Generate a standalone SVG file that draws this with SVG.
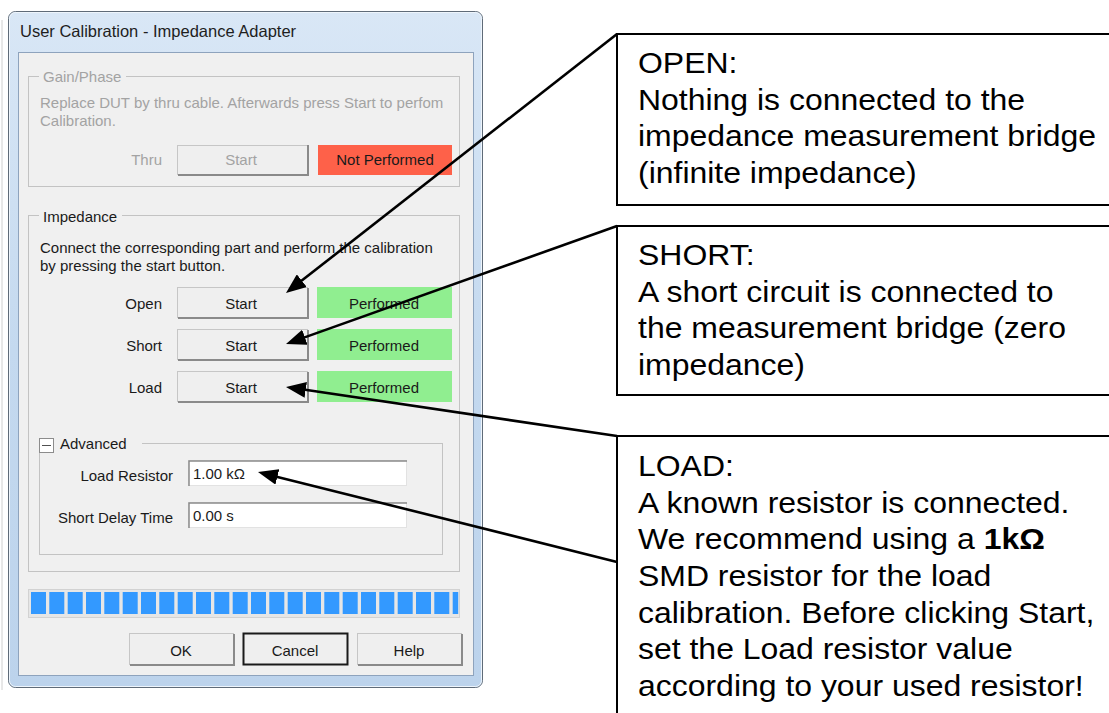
<svg xmlns="http://www.w3.org/2000/svg" width="1109" height="713" viewBox="0 0 1109 713">
<style>
.ui{font-family:"Liberation Sans",Arial,sans-serif;font-size:15px;fill:#1a1a1a}
.dis{fill:#a3a3a3}
.title{font-family:"Liberation Sans",Arial,sans-serif;font-size:16.5px;fill:#1e1e1e}
.grp{fill:none;stroke:#c3c3c3;stroke-width:1}
.btn{fill:#efefef;stroke:#c6c6c6;stroke-width:1}
.sh{fill:none;stroke:#8a8a8a;stroke-width:2}
.hl{fill:none;stroke:#ffffff;stroke-width:1}
.box{fill:#ffffff;stroke:#000000;stroke-width:2}
.co{font-family:"Liberation Sans",Arial,sans-serif;font-size:30px;fill:#000000}
.cn{fill:none;stroke:#000000;stroke-width:2.6}
.seg{fill:#3399ff}
</style>
<defs>
<linearGradient id="frame" x1="0" y1="0" x2="0" y2="1">
<stop offset="0" stop-color="#d9e7f6"/>
<stop offset="0.5" stop-color="#c4d9ef"/>
<stop offset="1" stop-color="#bcd3ec"/>
</linearGradient>
<marker id="ah" markerUnits="userSpaceOnUse" markerWidth="20" markerHeight="16" viewBox="0 0 20 16" refX="4" refY="8" orient="auto">
<path d="M0,0 L20,8 L0,16 z" fill="#000000"/>
</marker>
</defs>
<rect x="0" y="0" width="1109" height="713" fill="#ffffff"/>

<g id="dialog">
<line x1="2" y1="20" x2="2" y2="690" stroke="#d0d0d0" stroke-width="1"/>
<rect x="8.5" y="11.5" width="474" height="676" rx="7" fill="url(#frame)" stroke="#5f6b78" stroke-width="1"/>
<rect x="9.5" y="12.5" width="472" height="674" rx="6" fill="none" stroke="#eef5fc" stroke-width="1"/>
<text class="title" x="20" y="37">User Calibration - Impedance Adapter</text>
<rect x="18.5" y="52.5" width="455" height="623" fill="#f0f0f0" stroke="#8ea3bd" stroke-width="1"/>
</g>

<g id="gainphase">
<rect class="grp" x="28.5" y="76.5" width="431" height="110"/>
<rect x="39" y="70" width="87" height="12" fill="#f0f0f0"/>
<text class="ui dis" x="43" y="82">Gain/Phase</text>
<text class="ui dis" x="40" y="108">Replace DUT by thru cable. Afterwards press Start to perfom</text>
<text class="ui dis" x="40" y="126">Calibration.</text>
<text class="ui dis" x="162" y="165" text-anchor="end">Thru</text>
<rect class="btn" x="177.5" y="145.5" width="130" height="29"/>
<path class="sh" d="M178,175 H308 V145"/>
<text class="ui dis" x="241" y="165" text-anchor="middle">Start</text>
<rect x="318" y="145" width="134" height="30" fill="#fe6149"/>
<text class="ui" x="385" y="165" text-anchor="middle">Not Performed</text>
</g>

<g id="impedance">
<rect class="grp" x="28.5" y="215.5" width="431" height="356"/>
<rect x="39" y="209" width="83" height="12" fill="#f0f0f0"/>
<text class="ui" x="43" y="222">Impedance</text>
<text class="ui" x="40" y="253">Connect the corresponding part and perform the calibration</text>
<text class="ui" x="40" y="271">by pressing the start button.</text>
</g>

<g id="row-open">
<text class="ui" x="162" y="309" text-anchor="end">Open</text>
<rect class="btn" x="177.5" y="287.5" width="130" height="30"/>
<path class="sh" d="M178,318 H308 V288"/>
<text class="ui" x="241" y="309" text-anchor="middle">Start</text>
<rect x="317" y="287" width="135" height="31" fill="#90ee90"/>
<text class="ui" x="384" y="309" text-anchor="middle">Performed</text>
</g>

<g id="row-short">
<text class="ui" x="162" y="351" text-anchor="end">Short</text>
<rect class="btn" x="177.5" y="329.5" width="130" height="30"/>
<path class="sh" d="M178,360 H308 V330"/>
<text class="ui" x="241" y="351" text-anchor="middle">Start</text>
<rect x="317" y="329" width="135" height="31" fill="#90ee90"/>
<text class="ui" x="384" y="351" text-anchor="middle">Performed</text>
</g>

<g id="row-load">
<text class="ui" x="162" y="393" text-anchor="end">Load</text>
<rect class="btn" x="177.5" y="371.5" width="130" height="30"/>
<path class="sh" d="M178,402 H308 V372"/>
<text class="ui" x="241" y="393" text-anchor="middle">Start</text>
<rect x="317" y="371" width="135" height="31" fill="#90ee90"/>
<text class="ui" x="384" y="393" text-anchor="middle">Performed</text>
</g>

<g id="advanced">
<rect class="grp" x="39.5" y="443.5" width="403" height="111"/>
<rect x="36" y="436" width="106" height="14" fill="#f0f0f0"/>
<rect x="39.5" y="438.5" width="14" height="14" fill="#ffffff" stroke="#8c8c8c" stroke-width="1"/>
<line x1="42" y1="445.5" x2="51" y2="445.5" stroke="#505050" stroke-width="1"/>
<text class="ui" x="60" y="449">Advanced</text>
<text class="ui" x="173" y="481" text-anchor="end">Load Resistor</text>
<rect x="188.5" y="460.5" width="218" height="25" fill="#ffffff" stroke="#e2e2e2" stroke-width="1"/>
<path d="M189,486 V461 H407" fill="none" stroke="#8a8a8a" stroke-width="1.5"/>
<text class="ui" x="193" y="479">1.00 kΩ</text>
<text class="ui" x="173" y="523" text-anchor="end">Short Delay Time</text>
<rect x="188.5" y="502.5" width="218" height="25" fill="#ffffff" stroke="#e2e2e2" stroke-width="1"/>
<path d="M189,528 V503 H407" fill="none" stroke="#8a8a8a" stroke-width="1.5"/>
<text class="ui" x="193" y="521">0.00 s</text>
</g>

<g id="progress">
<rect x="28.5" y="589.5" width="431" height="28" fill="#e6e6e6" stroke="#d2d2d2" stroke-width="1"/>
<rect class="seg" x="31" y="592" width="15" height="22"/>
<rect class="seg" x="49.3" y="592" width="15" height="22"/>
<rect class="seg" x="67.7" y="592" width="15" height="22"/>
<rect class="seg" x="86" y="592" width="15" height="22"/>
<rect class="seg" x="104.3" y="592" width="15" height="22"/>
<rect class="seg" x="122.7" y="592" width="15" height="22"/>
<rect class="seg" x="141" y="592" width="15" height="22"/>
<rect class="seg" x="159.3" y="592" width="15" height="22"/>
<rect class="seg" x="177.7" y="592" width="15" height="22"/>
<rect class="seg" x="196" y="592" width="15" height="22"/>
<rect class="seg" x="214.3" y="592" width="15" height="22"/>
<rect class="seg" x="232.7" y="592" width="15" height="22"/>
<rect class="seg" x="251" y="592" width="15" height="22"/>
<rect class="seg" x="269.3" y="592" width="15" height="22"/>
<rect class="seg" x="287.7" y="592" width="15" height="22"/>
<rect class="seg" x="306" y="592" width="15" height="22"/>
<rect class="seg" x="324.3" y="592" width="15" height="22"/>
<rect class="seg" x="342.7" y="592" width="15" height="22"/>
<rect class="seg" x="361" y="592" width="15" height="22"/>
<rect class="seg" x="379.3" y="592" width="15" height="22"/>
<rect class="seg" x="397.7" y="592" width="15" height="22"/>
<rect class="seg" x="416" y="592" width="15" height="22"/>
<rect class="seg" x="434.3" y="592" width="15" height="22"/>
<rect class="seg" x="452.7" y="592" width="5.5" height="22"/>
</g>

<g id="buttons">
<rect class="btn" x="129.5" y="633.5" width="104" height="31"/>
<path class="sh" d="M130,665 H234 V634"/>
<text class="ui" x="181" y="656" text-anchor="middle">OK</text>
<rect x="243.5" y="633.5" width="104" height="31" fill="#efefef" stroke="#1a1a1a" stroke-width="2"/>
<text class="ui" x="295" y="656" text-anchor="middle">Cancel</text>
<rect class="btn" x="357.5" y="633.5" width="104" height="31"/>
<path class="sh" d="M358,665 H462 V634"/>
<text class="ui" x="409" y="656" text-anchor="middle">Help</text>
</g>

<g id="callout-open">
<rect class="box" x="617" y="34" width="500" height="171"/>
<g transform="translate(638 0) scale(1.065 1)">
<text class="co" x="0" y="73">OPEN:</text>
<text class="co" x="0" y="109.7">Nothing is connected to the</text>
<text class="co" x="0" y="146.4">impedance measurement bridge</text>
<text class="co" x="0" y="183.1">(infinite impedance)</text>
</g>
</g>

<g id="callout-short">
<rect class="box" x="617" y="226" width="500" height="169"/>
<g transform="translate(638 0) scale(1.065 1)">
<text class="co" x="0" y="265">SHORT:</text>
<text class="co" x="0" y="301.7">A short circuit is connected to</text>
<text class="co" x="0" y="338.4">the measurement bridge (zero</text>
<text class="co" x="0" y="375.1">impedance)</text>
</g>
</g>

<g id="callout-load">
<rect class="box" x="617" y="436" width="500" height="300"/>
<g transform="translate(638 0) scale(1.065 1)">
<text class="co" x="0" y="476">LOAD:</text>
<text class="co" x="0" y="512.7">A known resistor is connected.</text>
<text class="co" x="0" y="549.4">We recommend using a <tspan font-weight="bold">1kΩ</tspan></text>
<text class="co" x="0" y="586.1">SMD resistor for the load</text>
<text class="co" x="0" y="622.8">calibration. Before clicking Start,</text>
<text class="co" x="0" y="659.5">set the Load resistor value</text>
<text class="co" x="0" y="696.2">according to your used resistor!</text>
</g>
</g>

<g id="connectors">
<line class="cn" x1="617" y1="34" x2="298.6" y2="283.1" marker-end="url(#ah)"/>
<line class="cn" x1="617" y1="226" x2="301.1" y2="338.6" marker-end="url(#ah)"/>
<line class="cn" x1="617" y1="436" x2="301.8" y2="389.3" marker-end="url(#ah)"/>
<line class="cn" x1="617" y1="562" x2="273.5" y2="475.9" marker-end="url(#ah)"/>
</g>
</svg>
